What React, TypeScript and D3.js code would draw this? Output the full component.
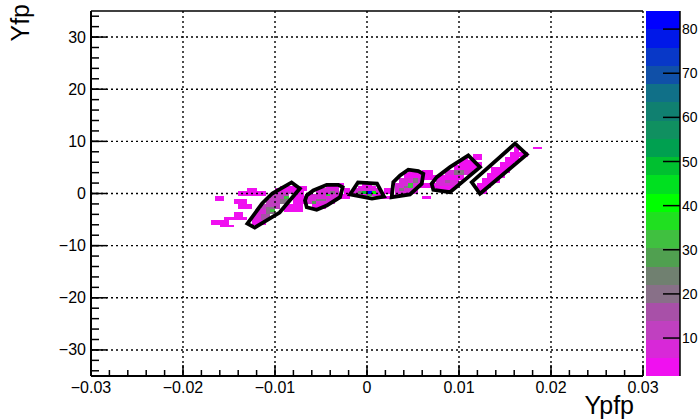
import React from "react";
import * as d3 from "d3";

const xTicks = [-0.03, -0.02, -0.01, 0, 0.01, 0.02, 0.03];
const xTickLabels = ["\u22120.03", "\u22120.02", "\u22120.01", "0", "0.01", "0.02", "0.03"];
const yTicks = [-30, -20, -10, 0, 10, 20, 30];
const yTickLabels = ["\u221230", "\u221220", "\u221210", "0", "10", "20", "30"];
const zTicks = [10, 20, 30, 40, 50, 60, 70, 80];
const zRange = [1.4, 84.1];

const paletteColors = [
  "#f010f0", "#d828d8", "#c040c0", "#a850a8", "#887088",
  "#708070", "#50a050", "#40c040", "#20e020", "#00ff00",
  "#00e020", "#00c030", "#00a050", "#109060", "#108070",
  "#107088", "#1050a8", "#0838c8", "#0018e8", "#0000ff",
];

// histogram bins: [x0, x1, y0, y1, count]
const cells: [number, number, number, number, number][] = [
  // left tail
  [-0.0140, -0.0110, -0.5, 0.5, 2],
  [-0.0165, -0.0155, -1.5, -0.5, 1],
  [-0.0145, -0.0130, -2.0, -1.0, 2],
  [-0.0145, -0.0135, -4.5, -3.5, 1],
  [-0.0140, -0.0125, -3.0, -2.0, 2],
  [-0.0170, -0.0150, -6.0, -5.0, 2],
  [-0.0155, -0.0130, -5.0, -4.5, 3],
  [-0.0160, -0.0145, -6.5, -6.0, 1],
  [-0.0130, -0.0120, 0.5, 1.0, 1],
  // polygon 1 region
  [-0.0125, -0.0110, -6.0, -5.0, 4],
  [-0.0125, -0.0105, -5.0, -4.0, 6],
  [-0.0120, -0.0100, -4.0, -3.0, 8],
  [-0.0115, -0.0095, -3.0, -2.0, 10],
  [-0.0110, -0.0090, -2.0, -1.0, 12],
  [-0.0105, -0.0085, -1.0, 0.0, 10],
  [-0.0100, -0.0080, 0.0, 1.0, 8],
  [-0.0090, -0.0080, 1.0, 1.5, 4],
  [-0.0110, -0.0100, -4.0, -2.5, 20],
  [-0.0105, -0.0100, -3.5, -3.0, 32],
  [-0.0090, -0.0085, -1.0, -0.5, 32],
  [-0.0095, -0.0085, -2.0, -1.0, 22],
  [-0.0115, -0.0105, -5.0, -4.0, 14],
  // between 1 and 2
  [-0.0095, -0.0065, 0.5, 1.5, 2],
  [-0.0090, -0.0070, -3.5, -2.0, 2],
  [-0.0080, -0.0065, -2.0, -0.5, 3],
  [-0.0080, -0.0068, -0.5, 0.5, 2],
  // polygon 2 region
  [-0.0060, -0.0045, -3.0, -2.0, 4],
  [-0.0065, -0.0035, -2.0, -1.0, 6],
  [-0.0065, -0.0030, -1.0, 0.0, 8],
  [-0.0055, -0.0030, 0.0, 1.0, 6],
  [-0.0045, -0.0030, 1.0, 1.5, 3],
  [-0.0060, -0.0055, -2.0, -1.5, 30],
  [-0.0045, -0.0040, -0.5, 0.0, 34],
  [-0.0055, -0.0045, -1.5, -1.0, 22],
  [-0.0040, -0.0035, 0.0, 0.5, 18],
  [-0.0030, -0.0018, -1.0, -0.5, 2],
  [-0.0028, -0.0015, -0.5, 0.0, 2],
  [-0.0035, -0.0025, 1.5, 2.0, 2],
  // polygon 3 region
  [-0.0015, 0.0015, -0.5, 0.0, 4],
  [-0.0015, 0.0015, 0.0, 0.5, 6],
  [-0.0015, 0.0015, 0.5, 1.0, 8],
  [-0.0010, 0.0010, 1.0, 1.5, 5],
  [-0.0005, 0.0005, 1.5, 2.0, 2],
  [-0.0005, 0.0000, 0.0, 0.5, 50],
  [0.0000, 0.0005, 0.0, 0.5, 82],
  [0.0005, 0.0010, 0.0, 0.5, 40],
  [-0.0010, -0.0005, 0.0, 0.5, 26],
  [0.0000, 0.0005, -0.5, 0.0, 30],
  [0.0018, 0.0028, 0.0, 1.0, 2],
  [-0.0025, -0.0018, 0.0, 1.0, 2],
  [0.0015, 0.0025, -1.0, -0.5, 1],
  // polygon 4 region
  [0.0030, 0.0045, -0.5, 0.0, 3],
  [0.0030, 0.0055, 0.0, 1.0, 6],
  [0.0030, 0.0060, 1.0, 2.0, 8],
  [0.0035, 0.0060, 2.0, 3.0, 7],
  [0.0040, 0.0060, 3.0, 4.0, 5],
  [0.0045, 0.0055, 4.0, 4.5, 2],
  [0.0045, 0.0050, 1.0, 2.0, 34],
  [0.0040, 0.0045, 1.0, 1.5, 22],
  [0.0050, 0.0055, 2.0, 3.0, 20],
  [0.0035, 0.0040, 0.5, 1.0, 18],
  [0.0060, 0.0075, 1.0, 2.0, 2],
  [0.0062, 0.0082, 2.5, 3.5, 3],
  [0.0060, 0.0072, 3.5, 4.5, 2],
  [0.0060, 0.0070, -1.0, -0.5, 2],
  // polygon 5 region
  [0.0075, 0.0095, 0.5, 1.5, 4],
  [0.0075, 0.0100, 1.5, 2.5, 6],
  [0.0080, 0.0105, 2.5, 3.5, 5],
  [0.0085, 0.0115, 3.5, 4.5, 6],
  [0.0095, 0.0120, 4.5, 5.5, 4],
  [0.0100, 0.0115, 5.5, 6.5, 3],
  [0.0105, 0.0110, 6.5, 7.0, 2],
  [0.0095, 0.0105, 3.5, 4.5, 18],
  [0.0085, 0.0090, 2.0, 2.5, 14],
  [0.0115, 0.0125, 6.5, 7.5, 2],
  [0.0115, 0.0125, 5.0, 6.0, 2],
  // polygon 6 region
  [0.0120, 0.0130, 0.0, 1.0, 2],
  [0.0120, 0.0135, 1.0, 2.0, 4],
  [0.0125, 0.0145, 2.0, 3.0, 5],
  [0.0130, 0.0150, 3.0, 4.0, 5],
  [0.0135, 0.0155, 4.0, 5.0, 4],
  [0.0145, 0.0160, 5.0, 6.0, 4],
  [0.0150, 0.0165, 6.0, 7.0, 3],
  [0.0155, 0.0170, 7.0, 8.0, 3],
  [0.0160, 0.0165, 8.0, 9.0, 2],
  [0.0165, 0.0175, 7.0, 8.0, 2],
  [0.0180, 0.0190, 8.5, 9.0, 2],
];

// graphical cuts (x, y)
const cut1: [number, number][] = [
  [-0.0130, -5.77], [-0.0122, -6.54], [-0.0095, -3.65], [-0.0073, 0.96],
  [-0.0082, 2.12], [-0.0103, 0.0], [-0.0114, -1.92],
];
const cut2: [number, number][] = [
  [-0.00674, -1.35], [-0.00655, -2.63], [-0.00547, -3.13], [-0.00438, -2.31],
  [-0.00293, -0.71], [-0.00264, 1.21], [-0.00312, 1.67], [-0.00438, 1.67],
  [-0.00584, 0.58], [-0.00655, -0.38],
];
const cut3: [number, number][] = [
  [-0.00185, -0.19], [-0.00098, 2.12], [0.00109, 1.92], [0.00185, -0.58], [0.00054, -0.96],
];
const cut4: [number, number][] = [
  [0.00286, 2.17], [0.00268, -0.71], [0.00467, -0.19], [0.00595, 1.87],
  [0.00612, 3.79], [0.00558, 4.29], [0.00449, 4.56], [0.00359, 3.46],
];
const cut5: [number, number][] = [
  [0.00703, 1.87], [0.00721, 0.71], [0.00902, 0.25], [0.01228, 5.06],
  [0.01101, 7.31], [0.00902, 5.06], [0.00758, 3.13],
];
const cut6: [number, number][] = [
  [0.01138, 2.17], [0.01228, -0.06], [0.01736, 7.5], [0.01609, 9.56],
];
const cuts = [cut1, cut2, cut3, cut4, cut5, cut6];

const W = 700, H = 420;
const L = 91, R = 643, T = 11, B = 376;
const PL = 646, PR = 680;
const FONT = "'Liberation Sans', Arial, Helvetica, sans-serif";

export default function App() {
  const x = d3.scaleLinear().domain([-0.03, 0.03]).range([L, R]);
  const y = d3.scaleLinear().domain([-35, 35]).range([B, T]);
  const z = d3.scaleLinear().domain(zRange).range([B, T]);
  const color = d3.scaleQuantize<string>().domain(zRange).range(paletteColors);
  const line = d3.line<[number, number]>().x((d) => x(d[0])).y((d) => y(d[1]));

  const xMinor = d3.range(-0.03, 0.0301, 0.002);
  const yMinor = d3.range(-34, 35, 2);
  const nb = paletteColors.length;
  const step = (zRange[1] - zRange[0]) / nb;

  return (
    <svg width={W} height={H} style={{ position: "absolute", left: 0, top: 0, background: "#fff" }} fontFamily={FONT}>
      <rect x={0} y={0} width={W} height={H} fill="#fff" />
      {cells.map((c, i) => (
        <rect key={i} x={x(c[0])} y={y(c[3])} width={x(c[1]) - x(c[0])} height={y(c[2]) - y(c[3])}
          fill={color(c[4])} shapeRendering="crispEdges" />
      ))}
      {xTicks.slice(1).map((t, i) => (
        <line key={"gx" + i} x1={x(t)} x2={x(t)} y1={T} y2={B} stroke="#000" strokeWidth={1.4} strokeDasharray="2,3" />
      ))}
      {yTicks.map((t, i) => (
        <line key={"gy" + i} x1={L} x2={R} y1={y(t)} y2={y(t)} stroke="#000" strokeWidth={1.4} strokeDasharray="2,3" />
      ))}
      {cuts.map((c, i) => (
        <path key={"c" + i} d={line(c) + "Z"} fill="none" stroke="#000" strokeWidth={3.8} strokeLinejoin="miter" />
      ))}
      <line x1={L} x2={R} y1={T} y2={T} stroke="#000" strokeWidth={1.5} />
      <line x1={L} x2={L} y1={T} y2={B} stroke="#000" strokeWidth={2} />
      <line x1={L} x2={R} y1={B} y2={B} stroke="#000" strokeWidth={2} />
      {xMinor.map((t, i) => (
        <line key={"xm" + i} x1={x(t)} x2={x(t)} y1={B} y2={B - 6} stroke="#000" strokeWidth={1.5} />
      ))}
      {xTicks.map((t, i) => (
        <g key={"xt" + i}>
          <line x1={x(t)} x2={x(t)} y1={B} y2={B - 11} stroke="#000" strokeWidth={1.5} />
          <text x={x(t)} y={393} fontSize={16} textAnchor="middle">{xTickLabels[i]}</text>
        </g>
      ))}
      {yMinor.map((t, i) => (
        <line key={"ym" + i} x1={L} x2={L + 8} y1={y(t)} y2={y(t)} stroke="#000" strokeWidth={1.5} />
      ))}
      {yTicks.map((t, i) => (
        <g key={"yt" + i}>
          <line x1={L} x2={L + 16} y1={y(t)} y2={y(t)} stroke="#000" strokeWidth={1.5} />
          <text x={86} y={y(t) + 5.5} fontSize={16} textAnchor="end">{yTickLabels[i]}</text>
        </g>
      ))}
      <text x={634} y={414} fontSize={25} textAnchor="end">Ypfp</text>
      <text transform={`translate(29,4) rotate(-90)`} fontSize={25} textAnchor="end">Yfp</text>
      {paletteColors.map((c, i) => (
        <rect key={"p" + i} x={PL} width={PR - PL} y={z(zRange[0] + (i + 1) * step)}
          height={z(zRange[0] + i * step) - z(zRange[0] + (i + 1) * step)} fill={c} shapeRendering="crispEdges" />
      ))}
      <line x1={PR} x2={PR} y1={T} y2={B} stroke="#000" strokeWidth={1.5} />
      {zTicks.map((t, i) => (
        <g key={"zt" + i}>
          <line x1={PR - 17} x2={PR} y1={z(t)} y2={z(t)} stroke="#000" strokeWidth={1.5} />
          <text x={PR + 2} y={z(t) + 5} fontSize={14}>{t}</text>
        </g>
      ))}
    </svg>
  );
}
